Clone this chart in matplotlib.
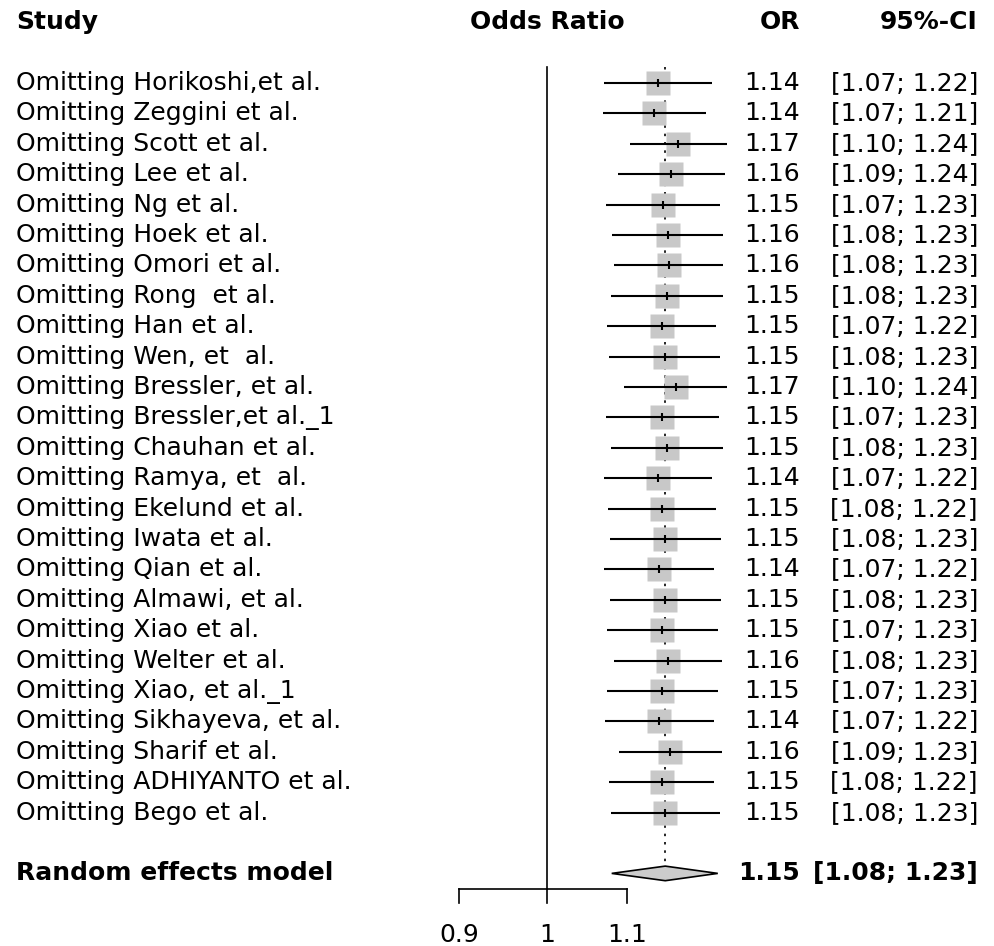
import numpy as np
import matplotlib
matplotlib.use("Agg")
import matplotlib.pyplot as plt
from matplotlib.transforms import blended_transform_factory

studies = ["Omitting Horikoshi,et al.", "Omitting Zeggini et al.", "Omitting Scott et al.",
           "Omitting Lee et al.", "Omitting Ng et al.", "Omitting Hoek et al.",
           "Omitting Omori et al.", "Omitting Rong  et al.", "Omitting Han et al.",
           "Omitting Wen, et  al.", "Omitting Bressler, et al.", "Omitting Bressler,et al._1",
           "Omitting Chauhan et al.", "Omitting Ramya, et  al.", "Omitting Ekelund et al.",
           "Omitting Iwata et al.", "Omitting Qian et al.", "Omitting Almawi, et al.",
           "Omitting Xiao et al.", "Omitting Welter et al.", "Omitting Xiao, et al._1",
           "Omitting Sikhayeva, et al.", "Omitting Sharif et al.", "Omitting ADHIYANTO et al.",
           "Omitting Bego et al."]
odds = [1.142, 1.137, 1.170, 1.160, 1.149, 1.156, 1.157, 1.1545, 1.148, 1.151, 1.167, 1.148,
        1.1545, 1.142, 1.148, 1.152, 1.143, 1.152, 1.148, 1.156, 1.148, 1.144, 1.159, 1.147, 1.152]
lower = [1.071, 1.069, 1.104, 1.088, 1.073, 1.081, 1.083, 1.080, 1.074, 1.077, 1.096, 1.073,
         1.080, 1.071, 1.076, 1.078, 1.070, 1.078, 1.075, 1.084, 1.075, 1.072, 1.090, 1.077, 1.079]
upper = [1.218, 1.210, 1.240, 1.237, 1.230, 1.234, 1.234, 1.234, 1.224, 1.230, 1.240, 1.228,
         1.234, 1.219, 1.224, 1.231, 1.221, 1.232, 1.227, 1.233, 1.227, 1.221, 1.233, 1.222, 1.230]
or_txt = ["1.14", "1.14", "1.17", "1.16", "1.15", "1.16", "1.16", "1.15", "1.15", "1.15", "1.17",
          "1.15", "1.15", "1.14", "1.15", "1.15", "1.14", "1.15", "1.15", "1.16", "1.15", "1.14",
          "1.16", "1.15", "1.15"]
ci_txt = ["[1.07; 1.22]", "[1.07; 1.21]", "[1.10; 1.24]", "[1.09; 1.24]", "[1.07; 1.23]",
          "[1.08; 1.23]", "[1.08; 1.23]", "[1.08; 1.23]", "[1.07; 1.22]", "[1.08; 1.23]",
          "[1.10; 1.24]", "[1.07; 1.23]", "[1.08; 1.23]", "[1.07; 1.22]", "[1.08; 1.22]",
          "[1.08; 1.23]", "[1.07; 1.22]", "[1.08; 1.23]", "[1.07; 1.23]", "[1.08; 1.23]",
          "[1.07; 1.23]", "[1.07; 1.22]", "[1.09; 1.23]", "[1.08; 1.22]", "[1.08; 1.23]"]
pooled = 1.152
pooled_lo = 1.0805
pooled_hi = 1.2268
ticks = [0.9, 1, 1.1]
tick_labels = ["0.9", "1", "1.1"]

fs = 18
fig = plt.figure(figsize=(9.95, 9.46), dpi=100)
ax = fig.add_axes([0, 0, 1, 1])
ax.set_xscale("log")
ax.set_xlim(0.5194, 1.7098)
ax.set_ylim(28.388, -2.730)
ax.axis("off")
tr = blended_transform_factory(fig.transFigure, ax.transData)

n = len(studies)
rows = np.arange(n)
pool_row = n + 1

# reference line at 1 and dotted line at the pooled estimate
ax.plot([1, 1], [-0.53, 26.51], color="black", lw=1.2)
ax.plot([pooled, pooled], [-0.53, pool_row - 0.24], color="black", lw=1.2, ls=(0, (1.5, 3.5)))

ax.plot(odds, rows, "s", ms=17, color="#c8c8c8", mec="none", zorder=2)
ax.hlines(rows, lower, upper, color="black", lw=1.5, zorder=3)
ax.plot(odds, rows, "|", ms=6, mew=1.5, color="black", zorder=4)

dx = [pooled_lo, pooled, pooled_hi, pooled]
dy = [pool_row, pool_row - 0.24, pool_row, pool_row + 0.24]
ax.fill(dx, dy, facecolor="#cccccc", edgecolor="black", lw=1.2, zorder=3)

# x axis
ax.plot([0.9, 1.1], [26.51, 26.51], color="black", lw=1.2)
for t, lab in zip(ticks, tick_labels):
    ax.plot([t, t], [26.51, 26.97], color="black", lw=1.2)
    ax.text(t, 28.03, lab, ha="center", va="center", fontsize=fs)

# headers
ax.text(16 / 995, -2, "Study", transform=tr, ha="left", va="center", fontsize=fs, fontweight="bold")
ax.text(1, -2, "Odds Ratio", ha="center", va="center", fontsize=fs, fontweight="bold")
ax.text(800 / 995, -2, "OR", transform=tr, ha="right", va="center", fontsize=fs, fontweight="bold")
ax.text(978 / 995, -2, "95%-CI", transform=tr, ha="right", va="center", fontsize=fs, fontweight="bold")

for i in range(n):
    ax.text(16 / 995, i, studies[i], transform=tr, ha="left", va="center", fontsize=fs)
    ax.text(800 / 995, i, or_txt[i], transform=tr, ha="right", va="center", fontsize=fs)
    ax.text(978 / 995, i, ci_txt[i], transform=tr, ha="right", va="center", fontsize=fs)

ax.text(16 / 995, pool_row, "Random effects model", transform=tr, ha="left", va="center",
        fontsize=fs, fontweight="bold")
ax.text(800 / 995, pool_row, "1.15", transform=tr, ha="right", va="center", fontsize=fs, fontweight="bold")
ax.text(978 / 995, pool_row, "[1.08; 1.23]", transform=tr, ha="right", va="center",
        fontsize=fs, fontweight="bold")

fig.savefig("out.png", dpi=100)
